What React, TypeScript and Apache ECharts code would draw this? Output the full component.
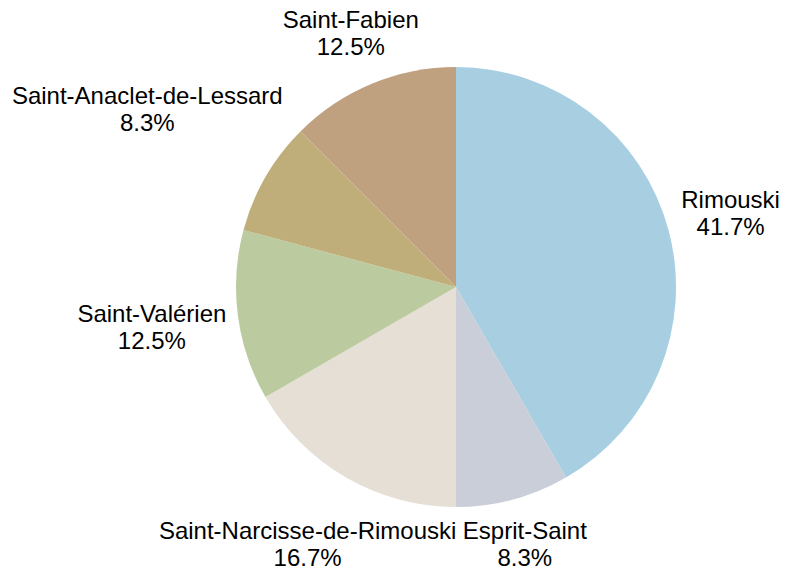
import React, { useEffect, useRef } from "react";
import * as echarts from "echarts";

const categories = [
  "Rimouski",
  "Esprit-Saint",
  "Saint-Narcisse-de-Rimouski",
  "Saint-Valérien",
  "Saint-Anaclet-de-Lessard",
  "Saint-Fabien",
];
const values = [10, 2, 4, 3, 2, 3];
const colors = ["#a8cee1", "#c9ced8", "#e5dfd5", "#bccb9f", "#bfae79", "#c0a17f"];

const CX = 456;
const CY = 287;
const R = 220;
const GAP = 10;

export default function App() {
  const ref = useRef<HTMLDivElement>(null);
  useEffect(() => {
    if (!ref.current) return;
    const chart = echarts.init(ref.current, null, { renderer: "svg" });
    const total = values.reduce((a, b) => a + b, 0);
    const mids: number[] = [];
    let acc = 0;
    values.forEach((v) => {
      mids.push(((acc + v / 2) / total) * Math.PI * 2);
      acc += v;
    });
    chart.setOption({
      animation: false,
      backgroundColor: "#ffffff",
      series: [
        {
          type: "pie",
          center: [CX, CY],
          radius: R,
          startAngle: 90,
          clockwise: true,
          percentPrecision: 1,
          avoidLabelOverlap: false,
          data: categories.map((c, i) => ({
            name: c,
            value: values[i],
            itemStyle: { color: colors[i] },
          })),
          itemStyle: { borderWidth: 0 },
          label: {
            show: true,
            position: "outside",
            formatter: "{b}\n{d}%",
            fontFamily: "Liberation Sans",
            fontSize: 24,
            lineHeight: 27,
            color: "#000000",
            overflow: "none",
            edgeDistance: 0,
          },
          labelLine: { show: false },
          emphasis: { disabled: true },
          labelLayout: (params: any) => {
            const a = mids[params.dataIndex];
            const ux = Math.sin(a);
            const uy = -Math.cos(a);
            const w = params.labelRect.width;
            const h = params.labelRect.height;
            const D = R + GAP;
            let lo = 0;
            let hi = 1000;
            for (let k = 0; k < 60; k++) {
              const t = (lo + hi) / 2;
              const bx = CX + ux * t;
              const by = CY + uy * t;
              const nx = Math.min(Math.max(CX, bx - w / 2), bx + w / 2);
              const ny = Math.min(Math.max(CY, by - h / 2), by + h / 2);
              const d = Math.hypot(nx - CX, ny - CY);
              if (d < D) lo = t;
              else hi = t;
            }
            return {
              x: CX + ux * hi,
              y: CY + uy * hi,
              align: "center",
              verticalAlign: "middle",
            };
          },
        },
      ],
    });
    return () => chart.dispose();
  }, []);
  return (
    <div
      ref={ref}
      style={{ position: "absolute", left: 0, top: 0, width: 799, height: 571 }}
    />
  );
}
